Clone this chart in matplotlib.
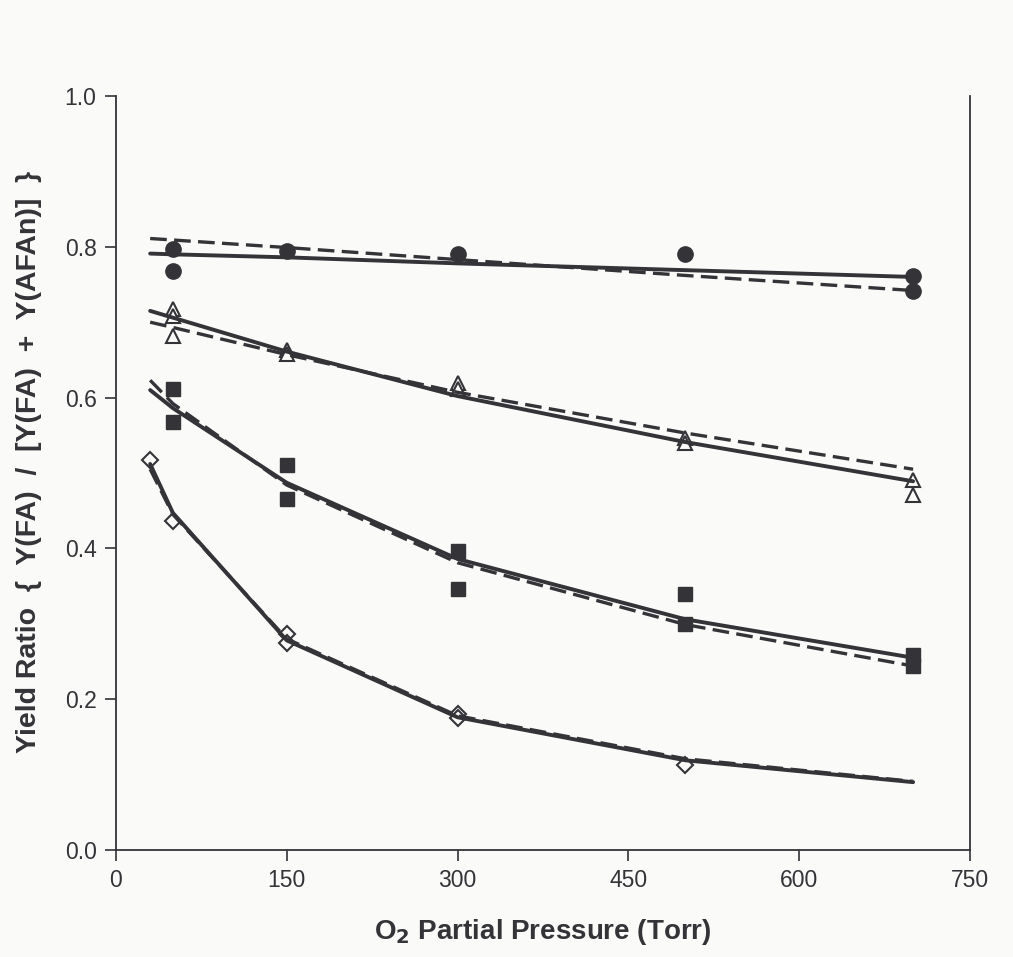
import matplotlib
matplotlib.use("Agg")
import matplotlib.pyplot as plt

plt.rcParams['font.family'] = ['Liberation Sans', 'DejaVu Sans']

# observed data
circ_x = [50, 50, 150, 300, 500, 700, 700]
circ_y = [0.797, 0.768, 0.795, 0.791, 0.791, 0.761, 0.742]
tri_x = [50, 50, 50, 150, 150, 300, 300, 500, 500, 700, 700]
tri_y = [0.717, 0.708, 0.682, 0.663, 0.658, 0.619, 0.612, 0.547, 0.540, 0.491, 0.471]
sq_x = [50, 50, 150, 150, 300, 300, 500, 500, 700, 700]
sq_y = [0.612, 0.568, 0.510, 0.465, 0.397, 0.346, 0.340, 0.300, 0.259, 0.244]
dia_x = [30, 50, 150, 150, 300, 300, 500]
dia_y = [0.517, 0.437, 0.287, 0.275, 0.180, 0.175, 0.113]

# model curves
model_x = [30, 50, 150, 300, 500, 700]
circ_solid = [0.791, 0.790, 0.786, 0.778, 0.769, 0.760]
circ_dash = [0.811, 0.809, 0.799, 0.783, 0.762, 0.742]
tri_solid = [0.715, 0.706, 0.661, 0.602, 0.541, 0.489]
tri_dash = [0.700, 0.693, 0.657, 0.607, 0.553, 0.505]
sq_solid = [0.610, 0.586, 0.487, 0.386, 0.306, 0.255]
sq_dash = [0.623, 0.592, 0.484, 0.381, 0.299, 0.244]
dia_solid = [0.512, 0.447, 0.278, 0.176, 0.119, 0.090]
dia_dash = [0.505, 0.445, 0.280, 0.178, 0.121, 0.091]

x_ticks = [0, 150, 300, 450, 600, 750]
y_ticks = [0.0, 0.2, 0.4, 0.6, 0.8, 1.0]

C = '#333338'
BG = '#fafaf8'

fig = plt.figure(figsize=(10.13, 9.57), dpi=100, facecolor=BG)
ax = fig.add_axes([0.1145, 0.1118, 0.8431, 0.7879], facecolor=BG)

ax.plot(circ_x, circ_y, 'o', ms=11, mfc=C, mec=C, zorder=2)
ax.plot(tri_x, tri_y, '^', ms=10.5, mfc=BG, mec=C, mew=1.5, zorder=2)
ax.plot(sq_x, sq_y, 's', ms=9.5, mfc=C, mec=C, zorder=2)
ax.plot(dia_x, dia_y, 'D', ms=8.5, mfc=BG, mec=C, mew=1.5, zorder=2)

dash = (5, 2.2)
for s, d in [(circ_solid, circ_dash), (tri_solid, tri_dash), (sq_solid, sq_dash), (dia_solid, dia_dash)]:
    ax.plot(model_x, s, '-', color=C, lw=2.8, zorder=3, solid_capstyle='round')
    ax.plot(model_x, d, '--', color=C, lw=2.4, dashes=dash, zorder=3)

ax.set_xlim(0, 750)
ax.set_ylim(0, 1.0)
ax.set_xticks(x_ticks)
ax.set_xticklabels([str(v) for v in x_ticks])
ax.set_yticks(y_ticks)
ax.set_yticklabels(['%.1f' % v for v in y_ticks])
ax.tick_params(direction='out', length=8, width=1.2, color=C, labelcolor=C, labelsize=16.5, pad=6)
for sp in ax.spines.values():
    sp.set_color(C)
    sp.set_linewidth(1.3)
ax.spines['top'].set_visible(False)

ax.set_xlabel('O$_\\mathbf{2}$ Partial Pressure (Torr)', fontsize=20, fontweight='bold', color=C, labelpad=18)
ax.set_ylabel('Yield Ratio  {  Y(FA)  /  [Y(FA)  +  Y(AFAn)]  }', fontsize=20.5, fontweight='bold', color=C)
ax.yaxis.set_label_coords(-0.087, 0.515)

fig.savefig('out.png', dpi=100, facecolor=BG)
